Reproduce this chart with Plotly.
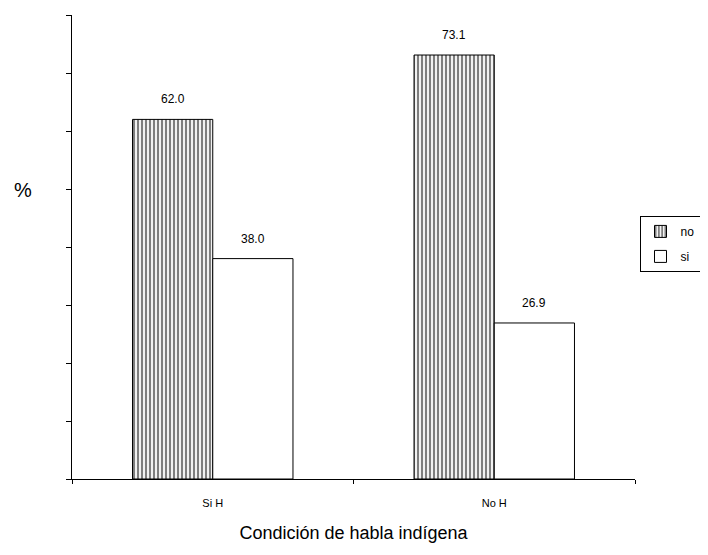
import plotly.graph_objects as go

categories = ["Si H", "No H"]
no_values = [62.0, 73.1]
si_values = [38.0, 26.9]
series_names = ["no", "si"]
y_tick_values = [0, 10, 20, 30, 40, 50, 60, 70, 80]

label_font = dict(family="Liberation Sans, Arial, sans-serif", size=12, color="black")

fig = go.Figure()
fig.add_trace(go.Bar(
    x=categories, y=no_values, name=series_names[0], legendgroup="g1",
    marker=dict(color="white", line=dict(color="black", width=1),
                pattern=dict(shape="|", fgcolor="black", bgcolor="white",
                             size=4, solidity=0.55, fillmode="overlay")),
))
fig.add_trace(go.Bar(
    x=categories, y=si_values, name=series_names[1], legendgroup="g2",
    marker=dict(color="white", line=dict(color="black", width=1)),
))

for vals, shift in ((no_values, -40), (si_values, 40)):
    for cat, v in zip(categories, vals):
        fig.add_annotation(x=cat, y=v, xref="x", yref="y", text=f"{v:.1f}",
                           showarrow=False, xshift=shift, yanchor="bottom",
                           yshift=11, font=label_font)

# page body has an 8px default margin; compensate so the plot lands where the reference has it
fig.update_layout(
    width=700, height=547,
    margin=dict(l=64, r=73, t=7, b=76, autoexpand=False),
    paper_bgcolor="white", plot_bgcolor="white",
    barmode="group", bargap=0.43, bargroupgap=0,
    font=dict(family="Liberation Sans, Arial, sans-serif", size=11, color="black"),
    showlegend=True,
    legend=dict(x=1.008, y=0.567, xanchor="left", yanchor="top",
                bordercolor="black", borderwidth=1, bgcolor="white",
                font=dict(size=12), traceorder="grouped", tracegroupgap=6,
                itemwidth=30),
)
fig.update_xaxes(
    showline=True, linecolor="black", linewidth=1,
    ticks="outside", tickson="boundaries", ticklen=4, tickcolor="black",
    showgrid=False, ticklabelstandoff=14,
    tickfont=dict(family="Liberation Sans, Arial, sans-serif", size=11),
    title=dict(text="Condición de habla indígena",
               font=dict(family="Liberation Sans Narrow, Arial Narrow, sans-serif", size=18),
               standoff=18),
)
fig.update_yaxes(
    range=[0, 80], tickvals=y_tick_values, showticklabels=False,
    showline=True, linecolor="black", linewidth=1,
    ticks="outside", ticklen=5, tickcolor="black",
    showgrid=False, zeroline=False,
)
fig.add_annotation(text="%", xref="paper", yref="paper", x=-0.087, y=0.623,
                   xanchor="center", yanchor="middle",
                   showarrow=False, font=dict(size=20, family="Liberation Sans, Arial, sans-serif"))

fig.write_html("out.html")
